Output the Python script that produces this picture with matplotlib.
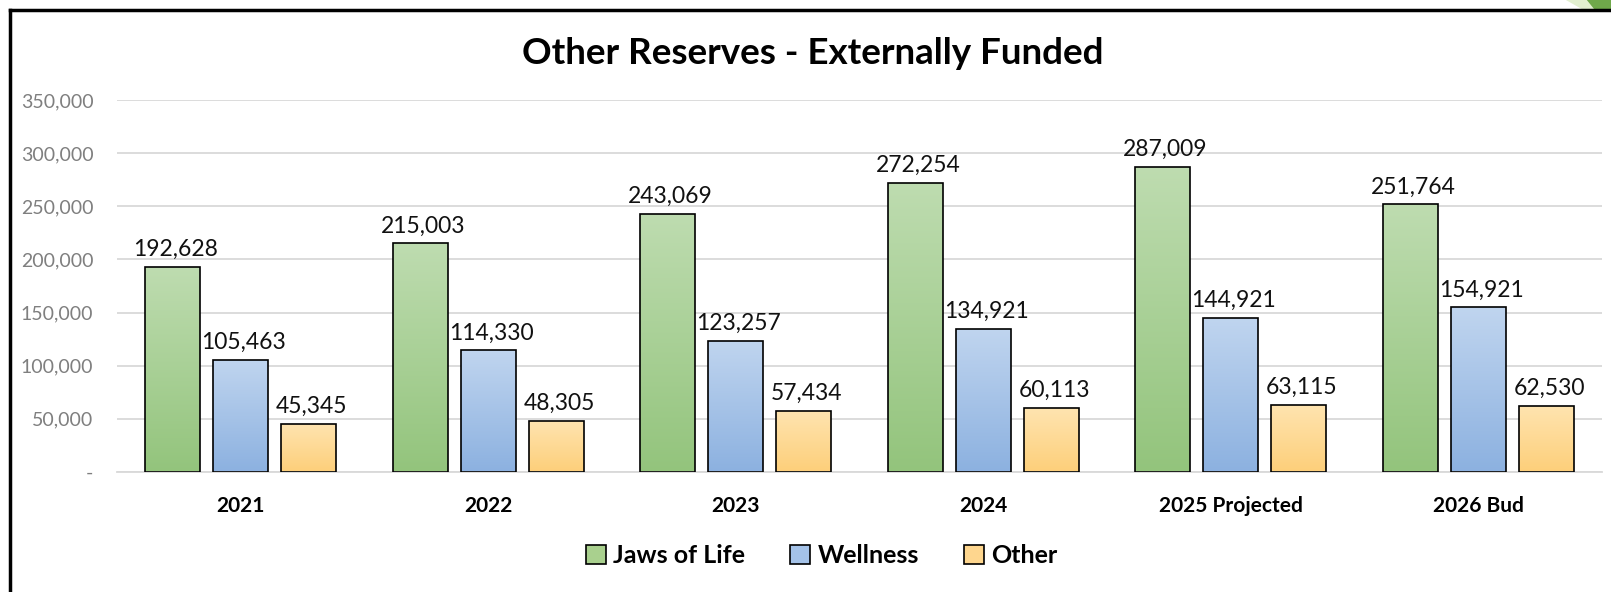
import numpy as np
import matplotlib.pyplot as plt
from matplotlib.colors import LinearSegmentedColormap
from matplotlib.patches import Patch, Polygon
from matplotlib.lines import Line2D
from matplotlib.ticker import FuncFormatter

plt.rcParams['font.family'] = ['Lato', 'DejaVu Sans']

# данные
years = ['2021', '2022', '2023', '2024', '2025 Projected', '2026 Bud']
jaws = [192628, 215003, 243069, 272254, 287009, 251764]
wellness = [105463, 114330, 123257, 134921, 144921, 154921]
other = [45345, 48305, 57434, 60113, 63115, 62530]
series_names = ['Jaws of Life', 'Wellness', 'Other']

# цвета градиента (верх, низ) для каждой серии
grads = [('#bedcb0', '#93c47c'), ('#c0d5ef', '#8cb1e0'), ('#ffe4b0', '#fdcf7a')]
flat = ['#a9d08e', '#a4c2e8', '#fed68e']

fig = plt.figure(figsize=(16.11, 5.92), dpi=100)
ax = fig.add_axes([0.0726, 0.2027, 0.9218, 0.6284])

x = np.arange(len(years))
w = 0.222
step = 0.275
grad_img = np.linspace(0, 1, 256).reshape(-1, 1)

for i, vals in enumerate([jaws, wellness, other]):
    cmap = LinearSegmentedColormap.from_list('g%d' % i, [grads[i][1], grads[i][0]])
    bars = ax.bar(x + (i - 1) * step, vals, w, facecolor='none',
                  edgecolor='black', linewidth=1.2, zorder=3)
    for b, v in zip(bars, vals):
        x0, y0 = b.get_x(), b.get_y()
        im = ax.imshow(grad_img, cmap=cmap, origin='lower', aspect='auto',
                       extent=[x0, x0 + b.get_width(), y0, y0 + b.get_height()],
                       zorder=2)
        im.set_clip_path(b)
        ax.annotate(f'{v:,}', (b.get_x() + b.get_width() / 2, v),
                    xytext=(2, 5), textcoords='offset points',
                    ha='center', va='bottom', fontsize=16.5, color='#111111')

ax.set_xlim(-0.5, len(years) - 0.5)
ax.set_ylim(0, 350000)
ax.set_yticks(np.arange(0, 350001, 50000))
ax.yaxis.set_major_formatter(FuncFormatter(lambda v, p: '-' if v == 0 else f'{int(v):,}'))
ax.grid(axis='y', color='#d9d9d9', linewidth=1.3, zorder=0)
ax.set_axisbelow(True)
for s in ['top', 'right', 'left']:
    ax.spines[s].set_visible(False)
ax.spines['bottom'].set_color('#d9d9d9')
ax.spines['bottom'].set_linewidth(1.3)
ax.tick_params(axis='y', length=0, pad=17, labelsize=14, labelcolor='#7f7f7f')
ax.tick_params(axis='x', length=0, pad=17, labelsize=15)
ax.set_xticks(x)
ax.set_xticklabels(years, fontweight='bold')

fig.text(0.5047, 0.91, 'Other Reserves - Externally Funded', ha='center', va='center',
         fontsize=26.5, fontweight='bold')

handles = [Patch(facecolor=flat[i], edgecolor='black', linewidth=1.2) for i in range(3)]
fig.legend(handles, series_names, loc='center', bbox_to_anchor=(0.51, 0.061), ncol=3,
           frameon=False, prop={'size': 18, 'weight': 'bold'},
           handlelength=0.8, handleheight=0.8, handletextpad=0.3, columnspacing=1.8)

# рамка
fig.add_artist(Line2D([0.0065, 0.0065], [0, 0.983], color='black', linewidth=2.5))
fig.add_artist(Line2D([0.0065, 1.0], [0.983, 0.983], color='black', linewidth=2.5))
fig.add_artist(Polygon([[0.972, 1.0], [0.983, 0.983], [1.0, 0.983], [1.0, 1.0]],
                       closed=True, facecolor='#e2efd0', edgecolor='none'))
fig.add_artist(Polygon([[0.985, 1.0], [0.99, 0.983], [1.0, 0.983], [1.0, 1.0]],
                       closed=True, facecolor='#6fa84a', edgecolor='none'))

fig.savefig('out.png', dpi=100)
